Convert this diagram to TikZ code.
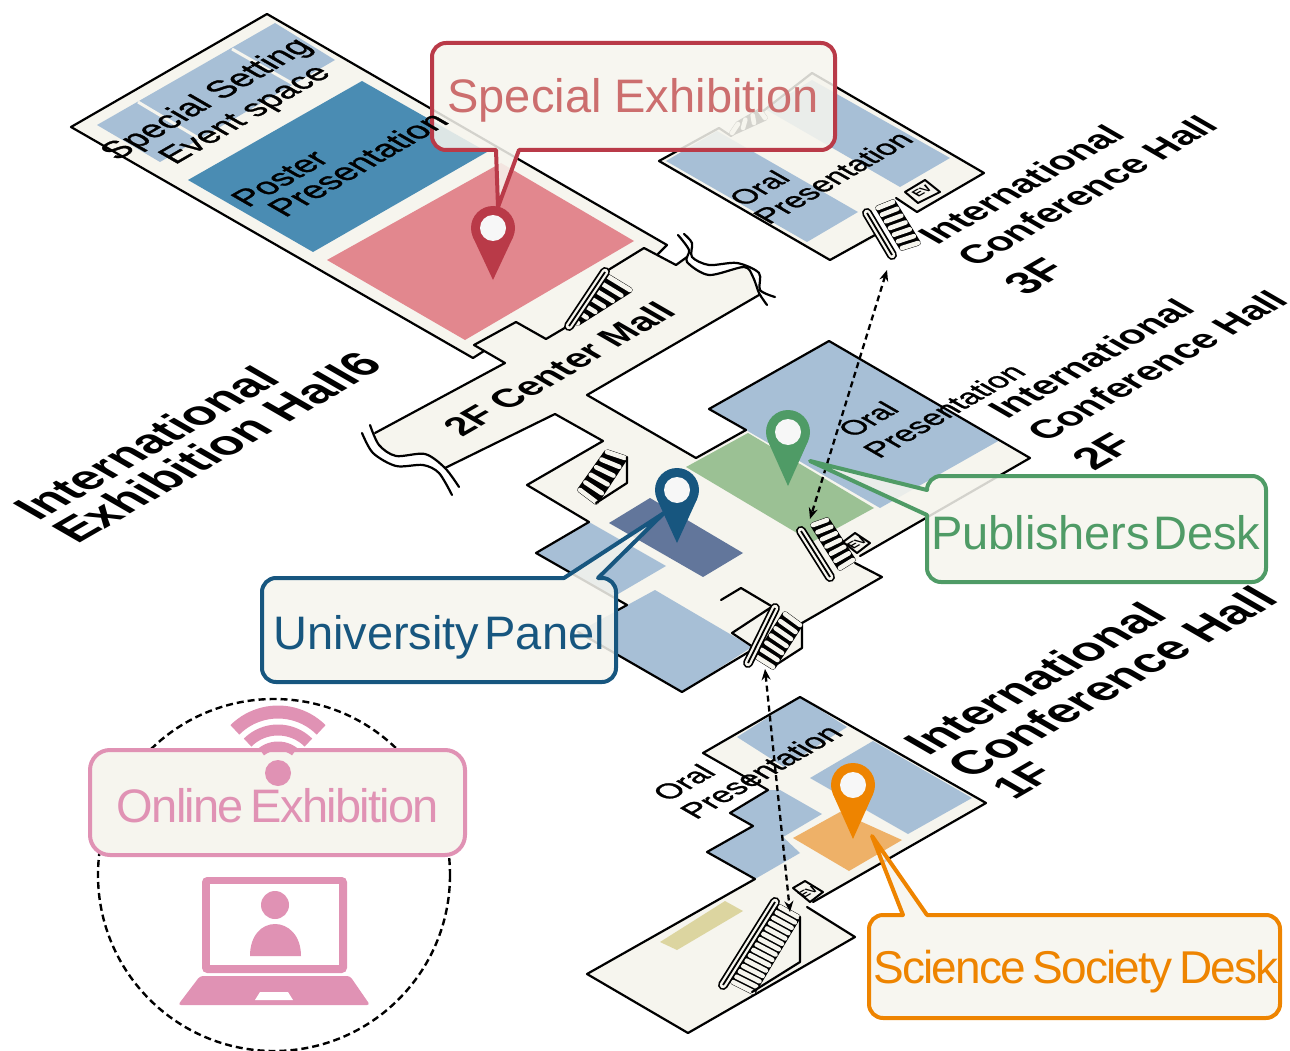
\documentclass[tikz,border=0pt]{standalone}
\usepackage{fontspec}
\setmainfont{Liberation Sans}
\newfontfamily\medf[FakeBold=1.1]{Liberation Sans}
\newfontfamily\tightA[WordSpace=0.4]{Liberation Sans}
\newfontfamily\tightB[WordSpace=0.3,LetterSpace=-0.3]{Liberation Sans}
\newfontfamily\tightC[WordSpace=0.6,LetterSpace=-4]{Liberation Sans}
\newfontfamily\tightD[WordSpace=0.6,LetterSpace=-3.7]{Liberation Sans}
\usetikzlibrary{arrows.meta}
\definecolor{cream}{HTML}{F6F5EE}
\definecolor{room}{HTML}{A7BFD6}
\definecolor{poster}{HTML}{4A8CB3}
\definecolor{rosefill}{HTML}{E2878E}
\definecolor{greenfill}{HTML}{9BC194}
\definecolor{navyfill}{HTML}{62769B}
\definecolor{orangefill}{HTML}{EEB168}
\definecolor{khaki}{HTML}{DCD5A0}
\definecolor{redc}{HTML}{B93A48}
\definecolor{redt}{HTML}{CC6E6E}
\definecolor{bluec}{HTML}{17567F}
\definecolor{greenc}{HTML}{4F9B66}
\definecolor{orangec}{HTML}{EE8400}
\definecolor{pinkc}{HTML}{E092B4}
\tikzset{
  outline/.style={draw=black,line width=2.2pt,line join=round,line cap=round},
  rungback/.style={draw=black,fill=black,line width=5.5pt,line join=round},
  rungc/.style={draw=cream,line width=4.6pt,line cap=round},
  isotxt/.style={transform shape,anchor=base west,inner sep=0pt,text=black},
  callout/.style={line width=4pt,fill=cream,fill opacity=.86,line join=round},
  boxtxt/.style={inner sep=0pt,anchor=center},
  flow/.style={black,line width=2.3pt,dash pattern=on 6pt off 4pt,{Stealth[length=11pt,width=9pt]}-{Stealth[length=11pt,width=9pt]}}
}
\newcommand\stairs[9]{%
  \path[rungback] (#1,#2) -- (#3,#4) -- (#7,#8) -- (#5,#6) -- cycle;
  \foreach \i in {0,...,#9}{%
    \pgfmathsetmacro\tt{\i/#9}%
    \pgfmathsetmacro\xa{#1+(#5-#1)*\tt}\pgfmathsetmacro\ya{#2+(#6-#2)*\tt}%
    \pgfmathsetmacro\xb{#3+(#7-#3)*\tt}\pgfmathsetmacro\yb{#4+(#8-#4)*\tt}%
    \path[rungc] (\xa,\ya) -- (\xb,\yb);
  }}
\newcommand\rail[4]{%
  \draw[black,line width=10pt,line cap=round] (#1,#2) -- (#3,#4);
  \draw[cream,line width=6.5pt,line cap=round] (#1,#2) -- (#3,#4);
  \draw[black,line width=1.8pt] (#1,#2) -- (#3,#4);}
\newcommand\evbox[9]{%
  \draw[outline,fill=cream,line width=2pt] (#1,#2) -- (#3,#4) -- (#5,#6) -- (#7,#8) -- cycle;
  \node[isotxt,anchor=center,cm={.866,.5,-.866,.5,(#9)}] at (0,0) {\fontsize{13}{13}\selectfont\bfseries EV};}
\newcommand\pin[5]{% x y d colour name
  \fill[#4] (#1-20.2,#2+8.8) -- (#1,#2+#3) -- (#1+20.2,#2+8.8) -- cycle;
  \fill[#4] (#1,#2) circle[radius=22];
  \fill[white!97!black] (#1,#2) circle[radius=13];}
\newcommand\isolab[5]{% name x y size text
  \node[isotxt,cm={.866,.5,-.866,.5,(#2,#3)}] (#1) at (0,0) {\fontsize{#4}{#4}\selectfont #5};}
\begin{document}
\begin{tikzpicture}[x=1pt,y=-1pt]
\useasboundingbox (0,0) rectangle (1290,1051);
% ---------- floor fills
\fill[cream] (267,14) -- (667,245) -- (658,254) -- (676,265) -- (687,257)
  -- plot[smooth] coordinates {(687,262) (709,275) (744,267) (753,277) (759,295)}
  -- (587,395) -- (696,458) -- (746,430) -- (709,409) -- (829,341) -- (1030,458) -- (860,556) -- (855,563)
  -- (882,577) -- (802,623) -- (802,648) -- (771,668) -- (752,650) -- (682,692) -- (578,632) -- (618,610)
  -- (627,605) -- (536,553) -- (589,522) -- (527,485) -- (603,441) -- (555,414) -- (445,468)
  -- plot[smooth] coordinates {(445,468) (425,454) (396,456) (379,445) (375,433)}
  -- (505,363) -- (484,351) -- (473,358) -- (71,127) -- cycle;
\fill[cream] (812,73) -- (984,173) -- (917,212) -- (896,198) -- (871,213) -- (882,235) -- (830,260) -- (659,161) -- (719,128) -- (731,136) -- cycle;
\fill[cream] (800,697) -- (986,803) -- (813,902) -- (807,907) -- (855,937) -- (688,1033) -- (587,974) -- (755,879) -- (707,852) -- (753,826) -- (730,813) -- (768,790) -- (703,753) -- cycle;
% ---------- rooms, hall 6
\fill[room] (275,23) -- (335,60) -- (160,162) -- (97,125) -- cycle;
\draw[cream,line width=3pt] (138,102) -- (200,139);
\draw[cream,line width=3pt] (232,49) -- (295,85);
\fill[poster] (362,81) -- (487,152) -- (313,252) -- (188,180) -- cycle;
\fill[rosefill] (501,163) -- (634,241) -- (465,340) -- (327,260) -- cycle;
% ---------- rooms, 3F
\fill[room] (666,161) -- (717,131) -- (858,212) -- (807,242) -- cycle;
\fill[room] (812,80) -- (950,158) -- (900,187) -- (765,109) -- cycle;
% ---------- rooms, 2F
\fill[room] (709,409) -- (829,341) -- (1000,440) -- (880,508) -- (746,430) -- cycle;
\fill[greenfill] (748,433) -- (874,508) -- (812,542) -- (686,467) -- cycle;
\fill[room] (589,522) -- (666,566) -- (613,597) -- (536,553) -- cycle;
\fill[navyfill] (650,498) -- (743,553) -- (703,577) -- (609,523) -- cycle;
\fill[room] (655,590) -- (752,647) -- (682,692) -- (578,632) -- cycle;
% ---------- rooms, 1F
\fill[room] (737,737) -- (800,697) -- (847,727) -- (784,767) -- cycle;
\fill[room] (873,741) -- (972,798) -- (908,834) -- (810,778) -- cycle;
\fill[room] (780,790) -- (822,814) -- (783,837) -- (800,853) -- (755,879) -- (707,852) -- (753,826) -- (730,813) -- (768,790) -- cycle;
\fill[orangefill] (793,838) -- (840,812) -- (902,840) -- (849,871) -- cycle;
\fill[khaki] (660,942) -- (725,901) -- (743,911) -- (677,950) -- cycle;
% ---------- outlines, hall 6 and mall
\draw[outline] (473,358) -- (71,127) -- (267,14) -- (667,245) -- (658,254);
\draw[outline] (605,272) -- (644,248) -- (676,265) -- (687,257);
\draw[outline] (473,358) -- (484,351);
\draw[outline] (375,433) -- (505,363) -- (474,345) -- (516,322) -- (546,339) -- (568,326);
\draw[outline] plot[smooth] coordinates {(678,235) (689,250) (687,262) (709,275) (744,267) (753,277) (759,293) (767,305)};
\draw[outline] plot[smooth] coordinates {(684,234) (692,243) (692,257) (709,265) (737,263) (759,273) (760,290) (775,297)};
\draw[outline] plot[smooth] coordinates {(370,425) (379,445) (396,456) (425,454) (445,468) (459,487)};
\draw[outline] plot[smooth] coordinates {(362,433) (373,453) (396,466) (423,465) (439,473) (452,495)};
\draw[outline] (759,295) -- (587,395) -- (696,458) -- (746,430);
\draw[outline] (445,468) -- (555,414) -- (603,441) -- (527,485) -- (589,522) -- (536,553) -- (627,605) -- (618,610);
% ---------- outlines, 2F
\draw[outline] (746,430) -- (709,409) -- (829,341) -- (1030,458) -- (860,556);
\draw[outline] (855,563) -- (882,577) -- (802,623) -- (802,648) -- (771,668);
\draw[outline] (752,650) -- (682,692) -- (578,632);
\draw[outline] (721,600) -- (741,588) -- (778,610);
\draw[outline] (770,608) -- (732,633) -- (753,647);
% ---------- outlines, 3F
\draw[outline] (871,213) -- (882,235) (875,235) -- (830,260) -- (659,161) -- (719,128) -- (731,136) -- (812,73) -- (984,173) -- (917,212) -- (896,198);
% ---------- outlines, 1F
\draw[outline] (813,902) -- (986,803) -- (800,697) -- (703,753) -- (768,790) -- (730,813) -- (753,826) -- (707,852) -- (755,879) -- (587,974) -- (688,1033) -- (855,937) -- (807,907);
% ---------- stairs
\stairs{607}{276}{630}{290}{575}{321}{578}{323}{6}
\rail{605}{272}{569}{326}
\stairs{878}{208}{893}{202}{902}{248}{918}{243}{6}
\rail{867}{213}{892}{255}
\evbox{905}{192}{925}{180}{940}{192}{918}{203}{922,191}
\stairs{738}{124}{732}{133}{760}{111}{765}{118}{3}
\stairs{607}{452}{625}{458}{580}{490}{596}{502}{5}
\draw[outline] (627,457) -- (627,483) -- (596,503);
\stairs{813}{525}{827}{520}{840}{568}{853}{560}{6}
\rail{801}{531}{830}{577}
\evbox{843}{542}{855}{533}{870}{543}{857}{553}{857,543}
\stairs{785}{614}{800}{625}{757}{657}{773}{667}{6}
\rail{775}{608}{748}{663}
\stairs{780}{907}{798}{917}{733}{982}{753}{992}{14}
\rail{775}{902}{723}{985}
\draw[outline] (800,917) -- (800,962) -- (752,992);
\evbox{793}{888}{805}{881}{823}{892}{810}{902}{808,892}
% ---------- online exhibition
\draw[black,line width=2.4pt,dash pattern=on 7pt off 4pt] (274,875) circle[radius=176];
\fill[pinkc,rounded corners=5] (202,877) rectangle (347,973);
\fill[white] (210,884) rectangle (339,965);
\fill[pinkc] (275,905) circle[radius=14];
\fill[pinkc] (250,956) .. controls (250,935) and (262,924) .. (275,924) .. controls (288,924) and (301,935) .. (301,956) -- cycle;
\fill[pinkc,rounded corners=3] (200,976) -- (350,976) -- (370,1005) -- (178,1005) -- cycle;
\fill[white] (260,992) -- (288,992) -- (293,1000) -- (255,1000) -- cycle;
\foreach \r/\w in {61/13,43/11}{
  \draw[pinkc,line width=\w pt] plot[domain=45:135,samples=24] ({278+\r*cos(\x)},{773-\r*sin(\x)});}
\draw[callout,draw=pinkc,fill opacity=1,rounded corners=20] (90,750) rectangle (465,855);
\draw[pinkc,line width=9pt] plot[domain=52:128,samples=16] ({278+27*cos(\x)},{773-27*sin(\x)});
\fill[pinkc] (278,773) circle[radius=13];
\node[boxtxt,text=pinkc] (online) at (278,806) {\fontsize{47}{47}\selectfont\tightD Online Exhibition};
% ---------- dashed connectors
\coordinate (stair3f) at (887,270);
\coordinate (stair2fup) at (810,519);
\coordinate (stair2fdn) at (765,669);
\coordinate (stair1f) at (790,912);
\draw[flow] (stair3f) -- (stair2fup);
\draw[flow] (stair2fdn) -- (stair1f);
% ---------- pins
\pin{493}{228}{52}{redc}{r}
\pin{677}{490}{53}{bluec}{b}
\pin{788}{432}{54}{greenc}{g}
\pin{853}{785}{54}{orangec}{o}
% ---------- callouts
\draw[callout,draw=redc] (519,150) [rounded corners=14] -- (835,150) -- (835,43) -- (432,43) -- (432,150) [sharp corners] -- (496,150) -- (498,207) -- cycle;
\node[boxtxt,text=redt] (special) at (633,100) {\fontsize{47}{47}\selectfont Special Exhibition};
\draw[callout,draw=bluec] (664,513) -- (598,578) [rounded corners=14] -- (616,578) -- (616,682) -- (262,682) -- (262,578) [sharp corners] -- (564,578) -- cycle;
\node[boxtxt,text=bluec] (univ) at (439,637) {\fontsize{47}{47}\selectfont\tightA University Panel};
\draw[callout,draw=greenc] (810,461) -- (927,490) [rounded corners=14] -- (927,476) -- (1266,476) -- (1266,582) -- (927,582) [sharp corners] -- (927,515) -- cycle;
\node[boxtxt,text=greenc] (publishers) at (1096,533) {\fontsize{47}{47}\selectfont\tightB Publishers Desk};
\draw[callout,draw=orangec] (872,836) -- (927,915) [rounded corners=14] -- (1280,915) -- (1280,1018) -- (869,1018) -- (869,915) [sharp corners] -- (903,915) -- cycle;
\node[boxtxt,text=orangec] (science) at (1076,972) {\fontsize{46}{46}\selectfont\tightC Science Society Desk};
% ---------- isometric labels
\isolab{h6a}{38}{522}{47}{\bfseries International}
\isolab{h6b}{77}{545}{47.5}{\bfseries Exhibition Hall6}
\isolab{sp1}{117}{161}{34}{\medf Special Setting}
\isolab{sp2}{175}{165}{33}{\medf Event space}
\isolab{po1}{248}{208}{33}{\medf Poster}
\isolab{po2}{285}{218}{34}{\medf Presentation}
\isolab{mall}{462}{438}{36.5}{\bfseries 2F Center Mall}
\isolab{o3a}{744}{207}{29}{\medf Oral}
\isolab{o3b}{769}{225}{30}{\medf Presentation}
\isolab{i3a}{937}{246}{36.5}{\bfseries International}
\isolab{i3b}{976}{268}{37}{\bfseries Conference Hall}
\isolab{i3c}{1026}{297}{43}{\bfseries 3F}
\isolab{o2a}{853}{438}{29}{\medf Oral}
\isolab{o2b}{879}{459}{30.5}{\medf Presentation}
\isolab{i2a}{1007}{420}{36.5}{\bfseries International}
\isolab{i2b}{1046}{443}{37}{\bfseries Conference Hall}
\isolab{i2c}{1094}{472}{43}{\bfseries 2F}
\isolab{o1a}{668}{802}{30}{\medf Oral}
\isolab{o1b}{696}{820}{30.5}{\medf Presentation}
\isolab{i1a}{928}{757}{46.5}{\bfseries International}
\isolab{i1b}{971}{780}{47}{\bfseries Conference Hall}
\isolab{i1c}{1014}{801}{43}{\bfseries 1F}
\end{tikzpicture}
\end{document}
